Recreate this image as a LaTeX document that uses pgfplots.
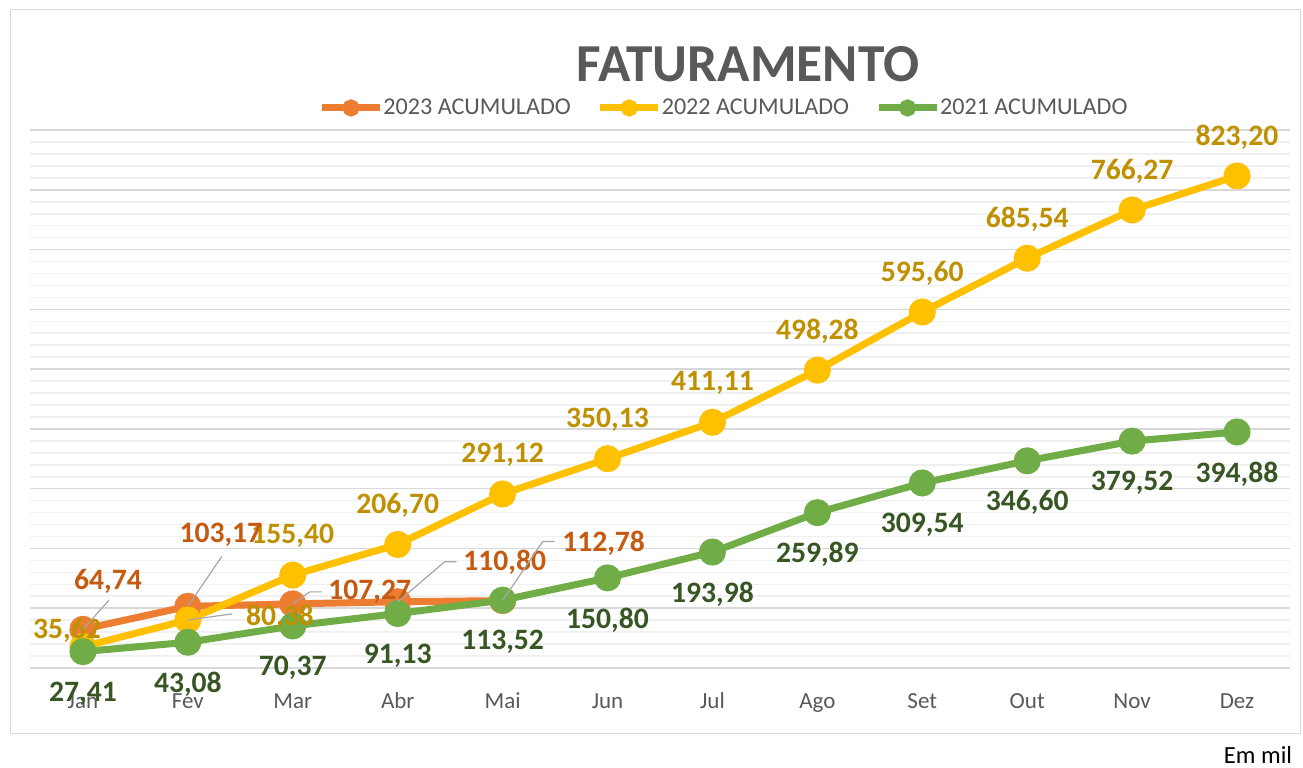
\documentclass[border=0pt]{standalone}
\usepackage{fontspec}
\setmainfont{Carlito}
\usepackage{pgfplots}
\pgfplotsset{compat=1.18}
\definecolor{c23}{HTML}{ED7D31}
\definecolor{c22}{HTML}{FFC000}
\definecolor{c21}{HTML}{70AD47}
\definecolor{l23}{HTML}{C55A11}
\definecolor{l22}{HTML}{BF9000}
\definecolor{l21}{HTML}{375623}
\definecolor{gridmaj}{HTML}{D9D9D9}
\definecolor{gridmin}{HTML}{F0F0F0}
\definecolor{txtgray}{HTML}{595959}
\definecolor{leadgray}{HTML}{A6A6A6}
\newcommand{\labfont}{\bfseries\fontsize{14.8}{17}\selectfont}
\begin{document}
\begin{tikzpicture}[x=1pt,y=1pt]
\fill[white] (0,0) rectangle (651.5,383.5);
\draw[line width=0.5pt, gridmaj] (5,17) rectangle (650,378.5);
\begin{axis}[
  at={(15.25pt,49.5pt)}, anchor=south west,
  scale only axis, width=629.5pt, height=269pt,
  xmin=-0.5, xmax=11.5, ymin=0, ymax=900,
  xtick={0,...,11},
  xticklabels={Jan,Fev,Mar,Abr,Mai,Jun,Jul,Ago,Set,Out,Nov,Dez},
  ytick={0,100,...,900}, yticklabels={}, minor y tick num=4,
  ymajorgrids, yminorgrids,
  major grid style={gridmaj, line width=0.8pt},
  minor grid style={gridmin, line width=0.8pt},
  axis line style={draw=none},
  major tick length=0pt, minor tick length=0pt,
  tick style={draw=none},
  xticklabel style={font=\fontsize{11.5}{13}\selectfont, text=txtgray, anchor=base, yshift=-20pt},
  clip=false,
  /pgf/number format/use comma,
  /pgf/number format/fixed,
  /pgf/number format/fixed zerofill,
  /pgf/number format/precision=2,
  /pgf/number format/1000 sep={},
  /pgf/number format/assume math mode=true,
  legend cell align=left,
  legend style={at={(0.55,1.041)}, anchor=center, draw=none, fill=none,
    legend columns=3, font=\fontsize{12.05}{14}\selectfont, text=txtgray,
    nodes={inner xsep=0pt},
    /tikz/every even column/.append style={column sep=13pt}},
  legend image code/.code={\draw[mark repeat=2,mark phase=2,#1,mark size=2.5pt] plot coordinates {(0pt,0pt) (14.5pt,0pt) (29pt,0pt)};},
]
\addplot[c23, line width=3.5pt, mark=*, mark size=5pt, mark options={solid, fill=c23, draw=c23}]
  coordinates {(0,64.74)(1,103.17)(2,107.27)(3,110.80)(4,112.78)};
\addlegendentry{2023 ACUMULADO}
\addplot[c22, line width=3.5pt, mark=*, mark size=5pt, mark options={solid, fill=c22, draw=c22}]
  coordinates {(0,35.62)(1,80.38)(2,155.40)(3,206.70)(4,291.12)(5,350.13)(6,411.11)(7,498.28)(8,595.60)(9,685.54)(10,766.27)(11,823.20)};
\addlegendentry{2022 ACUMULADO}
\addplot[c21, line width=3.5pt, mark=*, mark size=5pt, mark options={solid, fill=c21, draw=c21},
  nodes near coords, every node near coord/.append style={anchor=center, yshift=-21pt, font=\labfont, text=l21}]
  coordinates {(0,27.41)(1,43.08)(2,70.37)(3,91.13)(4,113.52)(5,150.80)(6,193.98)(7,259.89)(8,309.54)(9,346.60)(10,379.52)(11,394.88)};
\addlegendentry{2021 ACUMULADO}
% 2022 labels (Mar..Dez)
\addplot[draw=none, mark=none, forget plot,
  nodes near coords, every node near coord/.append style={anchor=center, yshift=19.5pt, font=\labfont, text=l22}]
  coordinates {(2,155.40)(3,206.70)(4,291.12)(5,350.13)(6,411.11)(7,498.28)(8,595.60)(9,685.54)(10,766.27)(11,823.20)};
% anchor points for the manually placed labels
\coordinate (b0) at (axis cs:0,35.62);
\coordinate (b1) at (axis cs:1,80.38);
\coordinate (a0) at (axis cs:0,64.74);
\coordinate (a1) at (axis cs:1,103.17);
\coordinate (a2) at (axis cs:2,107.27);
\coordinate (a3) at (axis cs:3,110.80);
\coordinate (a4) at (axis cs:4,112.78);
\end{axis}
% manually placed labels (drawn over the plot marks)
\node[font=\labfont, text=l22, xshift=-8pt, yshift=8pt] at (b0) {35,62};
\draw[leadgray, line width=0.6pt] (b1) -- ++(22pt,3pt);
\node[font=\labfont, text=l22, xshift=46pt, yshift=1.5pt] at (b1) {80,38};
\draw[leadgray, line width=0.6pt] (a0) -- ++(13pt,14.5pt);
\node[font=\labfont, text=l23, xshift=12.5pt, yshift=24pt] at (a0) {64,74};
\draw[leadgray, line width=0.6pt] (a1) -- ++(17pt,25pt);
\node[font=\labfont, text=l23, xshift=16.5pt, yshift=36pt] at (a1) {103,17};
\draw[leadgray, line width=0.6pt] (a2) -- ++(8.5pt,6pt) -- ++(6pt,0pt);
\node[font=\labfont, text=l23, xshift=38.5pt, yshift=6pt] at (a2) {107,27};
\draw[leadgray, line width=0.6pt] (a3) -- ++(23.5pt,20pt) -- ++(6pt,0pt);
\node[font=\labfont, text=l23, xshift=53.5pt, yshift=19.5pt] at (a3) {110,80};
\draw[leadgray, line width=0.6pt] (a4) -- ++(20pt,29.5pt) -- ++(6pt,0pt);
\node[font=\labfont, text=l23, xshift=50.5pt, yshift=28.5pt] at (a4) {112,78};
\node[font=\bfseries\fontsize{26.7}{30}\selectfont, text=txtgray] at (374,351.5) {FATURAMENTO};
\node[font=\fontsize{12.3}{14}\selectfont, text=black] at (629,6) {Em mil};
\pgfresetboundingbox
\path (0,0) rectangle (651.5,383.5);
\end{tikzpicture}
\end{document}
